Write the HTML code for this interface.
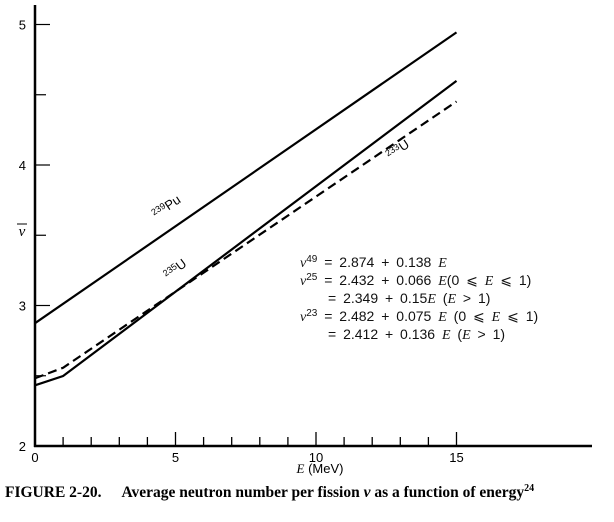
<!DOCTYPE html>
<html><head><meta charset="utf-8"><style>
body{margin:0;background:#fff;}
svg{display:block;font-family:"Liberation Sans",sans-serif;}
</style></head><body>
<svg width="614" height="522" viewBox="0 0 614 522" xmlns="http://www.w3.org/2000/svg">
<g id="axes"></g>
<g id="series"></g>
<g font-size="14" fill="#111" word-spacing="3">
<text x="300" y="267"><tspan font-family="Liberation Serif" font-style="italic">ν</tspan><tspan font-size="10" dy="-5">49</tspan><tspan dy="5"> = 2.874 + 0.138 </tspan><tspan font-family="Liberation Serif" font-style="italic">E</tspan></text>
<text x="300" y="285"><tspan font-family="Liberation Serif" font-style="italic">ν</tspan><tspan font-size="10" dy="-5">25</tspan><tspan dy="5"> = 2.432 + 0.066 </tspan><tspan font-family="Liberation Serif" font-style="italic">E</tspan>(0 ⩽ <tspan font-family="Liberation Serif" font-style="italic">E</tspan> ⩽ 1)</text>
<text x="328" y="303">= 2.349 + 0.15<tspan font-family="Liberation Serif" font-style="italic">E</tspan>  (<tspan font-family="Liberation Serif" font-style="italic">E</tspan> &gt; 1)</text>
<text x="300" y="321"><tspan font-family="Liberation Serif" font-style="italic">ν</tspan><tspan font-size="10" dy="-5">23</tspan><tspan dy="5"> = 2.482 + 0.075 </tspan><tspan font-family="Liberation Serif" font-style="italic">E</tspan> (0 ⩽ <tspan font-family="Liberation Serif" font-style="italic">E</tspan> ⩽ 1)</text>
<text x="328" y="339">= 2.412 + 0.136 <tspan font-family="Liberation Serif" font-style="italic">E</tspan>  (<tspan font-family="Liberation Serif" font-style="italic">E</tspan> &gt; 1)</text>
</g>
<text x="320" y="473" font-size="13" text-anchor="middle"><tspan font-family="Liberation Serif" font-style="italic">E</tspan> (MeV)</text>
<g>
<text x="22" y="236" font-size="15" font-family="Liberation Serif" font-style="italic" text-anchor="middle">ν</text>
<line x1="17" y1="224" x2="27" y2="224" stroke="#000" stroke-width="1"/>
</g>
<text x="5" y="497" font-size="15.5" font-weight="bold" font-family="Liberation Serif">FIGURE 2-20.<tspan dx="20">Average neutron number per fission </tspan><tspan font-style="italic">ν</tspan> as a function of energy<tspan font-size="10" dy="-6">24</tspan></text>
</svg>
<script>
const xTicks=[0,1,2,3,4,5,6,7,8,9,10,11,12,13,14,15];
const xLabels=[0,5,10,15];
const yTicks=[2,2.5,3,3.5,4,4.5,5];
const yLabels=[2,3,4,5];
const puE=[0,15];
const puNu=[2.874,4.944];
const u235E=[0,1,15];
const u235Nu=[2.432,2.498,4.599];
const u233E=[0,1,15];
const u233Nu=[2.482,2.557,4.452];
const NS="http://www.w3.org/2000/svg";
const X=e=>35+28.1*e, Y=v=>446-140.5*(v-2);
function mk(t,a,p){const el=document.createElementNS(NS,t);for(const k in a)el.setAttribute(k,a[k]);p.appendChild(el);return el;}
const ax=document.getElementById('axes'), sr=document.getElementById('series');
let l=mk('line',{x1:35,y1:5,x2:35,y2:447,stroke:'#000','stroke-width':2.5},ax);


l=mk('line',{x1:34,y1:446,x2:592,y2:446,stroke:'#000','stroke-width':2.5},ax);


xTicks.forEach(t=>{if(t===0)return;const h=t%5===0?14:9;
const tk=mk('line',{x1:X(t),y1:446,x2:X(t),y2:446-h,stroke:'#000','stroke-width':1.3},ax);

});
xLabels.forEach(t=>{const tx=mk('text',{x:X(t),y:462,'font-size':13,'text-anchor':'middle'},ax);tx.textContent=t;

});
yTicks.forEach(t=>{if(t===2)return;const w=Number.isInteger(t)?15:11;
const tk=mk('line',{x1:35,y1:Y(t),x2:35+w,y2:Y(t),stroke:'#000','stroke-width':1.2},ax);

});
yLabels.forEach(t=>{const tx=mk('text',{x:26,y:Y(t)+5,'font-size':13,'text-anchor':'end'},ax);tx.textContent=t;

});
function line(E,N,name,dash){const p=mk('polyline',{points:E.map((e,i)=>X(e)+','+Y(N[i])).join(' '),fill:'none',stroke:'#000','stroke-width':2.2,'stroke-dasharray':dash||'none'},sr);

}
line(puE,puNu,'pu239-line');
line(u235E,u235Nu,'u235-line');
line(u233E,u233Nu,'u233-line','9,5');
function lab(x,y,ang,sup,el,name){const t=mk('text',{x:x,y:y,'font-size':13,transform:`rotate(${-ang} ${x} ${y})`},sr);
t.innerHTML=`<tspan font-size="9" dy="-4">${sup}</tspan><tspan dy="4">${el}</tspan>`;

}
lab(156,219,34,'239','Pu','pu239-label');
lab(168,280,37,'235','U','u235-label');
lab(390,160,34,'233','U','u233-label');
</script>
</body></html>
